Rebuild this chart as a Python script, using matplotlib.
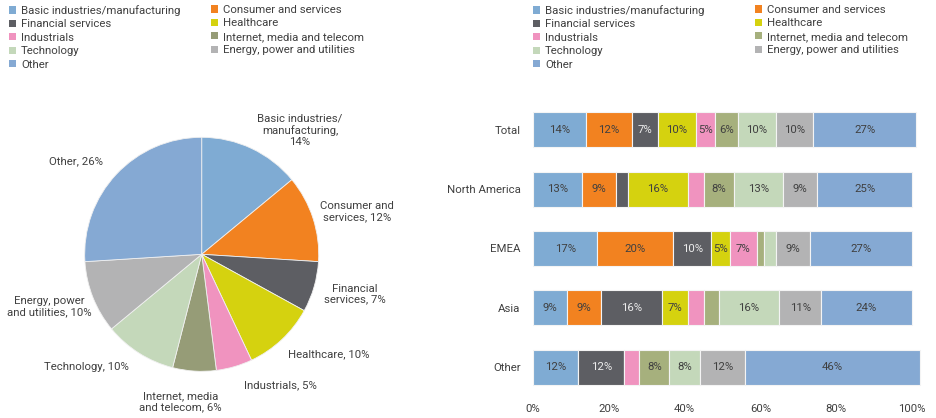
import numpy as np
import matplotlib
matplotlib.use("Agg")
import matplotlib.pyplot as plt
from matplotlib.patches import Patch

plt.rcParams['font.family'] = ['Roboto', 'DejaVu Sans']
TXT = '#404040'
FS = 8.2

sectors = ["Basic industries/manufacturing", "Consumer and services", "Financial services",
           "Healthcare", "Industrials", "Internet, media and telecom", "Technology",
           "Energy, power and utilities", "Other"]
bar_colors = ['#7FABD3', '#F28220', '#5D5E63', '#D5D20F', '#F093BF',
              '#A6B07D', '#C4D8BA', '#B3B3B4', '#85A9D3']
pie_colors = ['#7FABD3', '#F28220', '#5D5E63', '#D5D20F', '#F093BF',
              '#969C77', '#C4D8BA', '#B3B3B4', '#85A9D3']

# pie: overall split
pie_values = [14, 12, 7, 10, 5, 6, 10, 10, 26]
pie_labels = ["Basic industries/\nmanufacturing,\n14%", "Consumer and\nservices, 12%",
              "Financial\nservices, 7%", "Healthcare, 10%", "Industrials, 5%",
              "Internet, media\nand telecom, 6%", "Technology, 10%",
              "Energy, power\nand utilities, 10%", "Other, 26%"]

# stacked bars by region (percent)
regions = ["Total", "North America", "EMEA", "Asia", "Other"]
basic = [14, 13, 17, 9, 12]
consumer = [12, 9, 20, 9, 0]
financial = [7, 3, 10, 16, 12]
healthcare = [10, 16, 5, 7, 0]
industrials = [5, 4, 7, 4, 4]
internet = [6, 8, 2, 4, 8]
technology = [10, 13, 3, 16, 8]
energy = [10, 9, 9, 11, 12]
other = [27, 25, 27, 24, 46]
series = [basic, consumer, financial, healthcare, industrials, internet, technology, energy, other]

W, H = 936, 418
fig = plt.figure(figsize=(W / 100, H / 100), dpi=100)

# ---- pie ----
cx, cy, r = 201.7, 254.3, 117
axp = fig.add_axes([(cx - r) / W, (H - cy - r) / H, 2 * r / W, 2 * r / H])
axp.pie(pie_values, colors=pie_colors, startangle=90, counterclock=False,
        wedgeprops=dict(edgecolor='#F0F0F0', linewidth=0.6))
axp.set_xlim(-1, 1)
axp.set_ylim(-1, 1)
axp.set_aspect('equal')
axp.axis('off')
label_pos = [(0.84, 1.06), (1.327, 0.364), (1.31, -0.339), (1.088, -0.852),
             (0.669, -1.117), (-0.179, -1.26), (-0.983, -0.963), (-1.303, -0.448),
             (-1.074, 0.797)]
for (lx, ly), t in zip(label_pos, pie_labels):
    axp.text(lx, ly, t, ha='center', va='center', multialignment='center',
             fontsize=FS, color=TXT, clip_on=False, linespacing=1.1)

# ---- stacked bars ----
x0, px_per = 533, 3.79
top, bottom = 130 - 29.65, 367 + 29.65
xmax = 103
axb = fig.add_axes([x0 / W, (H - bottom) / H, xmax * px_per / W, (bottom - top) / H])
y = np.arange(len(regions))
left = np.zeros(len(regions))
for vals, col in zip(series, bar_colors):
    vals = np.array(vals, dtype=float)
    bars = axb.barh(y, vals, left=left, height=0.59, color=col,
                    edgecolor='#F4F4F4', linewidth=0.8)
    tc = '#EDEDED' if col == '#5D5E63' else TXT
    for b, v in zip(bars, vals):
        if v >= 5:
            axb.text(b.get_x() + b.get_width() / 2, b.get_y() + b.get_height() / 2,
                     f"{int(v)}%", ha='center', va='center', fontsize=FS, color=tc)
    left += vals
axb.set_xlim(0, xmax)
axb.set_ylim(len(regions) - 0.5, -0.5)
axb.set_yticks(y)
axb.set_yticklabels(regions)
axb.set_xticks([0, 20, 40, 60, 80, 100])
axb.set_xticklabels(["0%", "20%", "40%", "60%", "80%", "100%"])
axb.tick_params(axis='y', length=0, pad=9, labelsize=FS, labelcolor=TXT)
axb.tick_params(axis='x', length=0, pad=5, labelsize=FS, labelcolor=TXT)
for s in axb.spines.values():
    s.set_visible(False)

# ---- legends ----
def add_legend(colors, x_px, y_px, idx):
    handles = [Patch(facecolor=colors[i], edgecolor='none', label=sectors[i]) for i in idx]
    fig.legend(handles=handles, loc='upper left', bbox_to_anchor=(x_px / W, 1 - y_px / H),
               frameon=False, fontsize=FS, handlelength=0.6, handleheight=0.6,
               handletextpad=0.45, labelspacing=0.3, borderpad=0, borderaxespad=0,
               labelcolor=TXT)

col1 = [0, 2, 4, 6, 8]
col2 = [1, 3, 5, 7]
add_legend(pie_colors, 9, 5, col1)
add_legend(pie_colors, 211, 5, col2)
add_legend(bar_colors, 533, 5, col1)
add_legend(bar_colors, 755, 5, col2)

fig.savefig("out.png", dpi=100)
